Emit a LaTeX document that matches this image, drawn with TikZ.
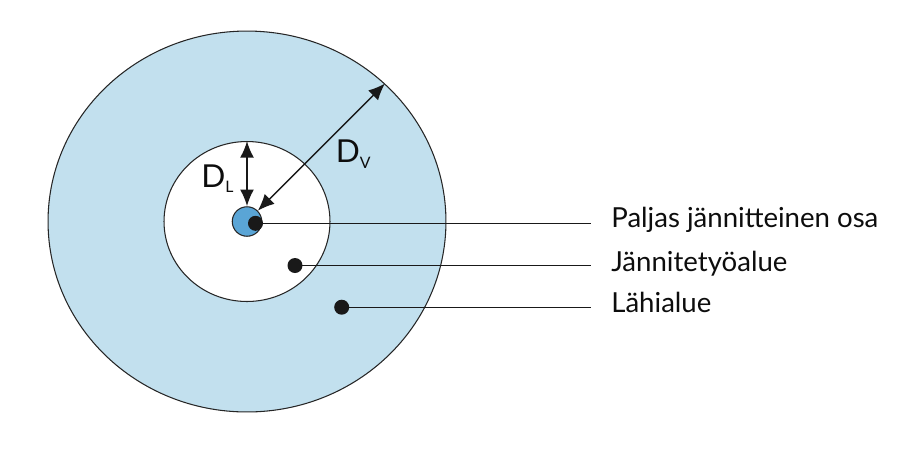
\documentclass[tikz,border=0pt]{standalone}
\usepackage{fontspec}
\setmainfont{Lato}
\usetikzlibrary{arrows.meta, shapes.geometric}
\definecolor{nearblue}{HTML}{C2E0EE}
\definecolor{liveblue}{HTML}{5AA5D6}

\begin{document}
\begin{tikzpicture}[
		x=0.02cm, y=-0.02cm,
		zone/.style={ellipse, draw=black!85, line width=0.6pt, inner sep=0pt, fill=#1},
		dot/.style={circle, fill=black!90, inner sep=0pt, minimum size=0.3cm},
		leader/.style={line width=0.7pt, draw=black!90},
		dim/.style={{Latex[length=9.5pt, width=8pt]}-{Latex[length=9.5pt, width=8pt]}, line width=#1, draw=black!90},
		lbl/.style={font=\fontsize{15.7}{18}\selectfont, anchor=base west, inner sep=0pt, text=black!95},
		dimlbl/.style={font=\fontsize{18}{21}\selectfont, anchor=base west, inner sep=0pt, text=black!95}
		]
	\useasboundingbox (0,0) rectangle (914,451);
	
	% Zones
	\node[zone=nearblue, minimum width=7.96cm, minimum height=7.62cm] (near) at (247,221.5) {};
	\node[zone=white, minimum width=3.32cm, minimum height=3.2cm] (work) at (247,221.5) {};
	\node[zone=liveblue, minimum width=0.59cm, minimum height=0.59cm] (live) at (247,221.5) {};
	
	% Distances
	\draw[dim=1.1pt] (work.north) -- (live.north);
	\draw[dim=0.8pt] (live.45) -- (near.45);
	\node[dimlbl] (dl) at (201,187) {D\raisebox{-3.4pt}{\fontsize{9}{10}\selectfont L}};
	\node[dimlbl] (dv) at (335.5,162.7) {D\raisebox{-3.4pt}{\fontsize{9}{10}\selectfont V}};
	
	% Markers
	\node[dot] (d1) at (255.5,223.3) {};
	\node[dot] (d2) at (295,265.5) {};
	\node[dot] (d3) at (341.7,307.2) {};
	
	% Leaders and labels
	\coordinate (e1) at (591,223.3);
	\coordinate (e2) at (591,265.5);
	\coordinate (e3) at (591,307.2);
	\draw[leader] (d1.center) -- (e1);
	\draw[leader] (d2.center) -- (e2);
	\draw[leader] (d3.center) -- (e3);
	\node[lbl] (l1) at (611,227.3) {Paljas jännitteinen osa};
	\node[lbl] (l2) at (611,271.7) {Jännitetyöalue};
	\node[lbl] (l3) at (611,312.7) {Lähialue};
	
\end{tikzpicture}
\end{document}
